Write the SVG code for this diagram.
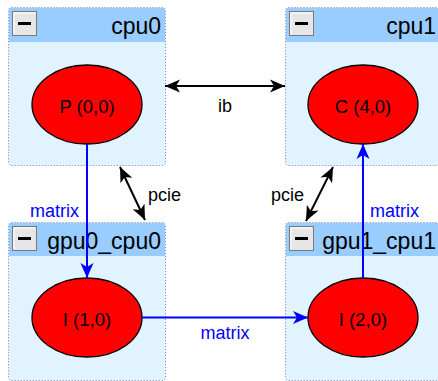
<svg xmlns="http://www.w3.org/2000/svg" width="438" height="381" viewBox="0 0 438 381">
<style>
.body{fill:#e0f3ff;stroke:#7a7ab8;stroke-width:1;stroke-dasharray:1 2}
.head{fill:#99ccff}
.title{font-family:"Liberation Sans",Arial,sans-serif;font-size:23px;fill:#000;text-anchor:end}
.btn{fill:#e6e6e6;stroke:#7a7a7a;stroke-width:1}
.btnhl{fill:none;stroke:#ffffff;stroke-width:1}
.node{fill:#ff0000;stroke:#000;stroke-width:1.3}
.nlabel{font-family:"Liberation Sans",Arial,sans-serif;font-size:18.5px;fill:#000;text-anchor:middle}
.elabel{font-family:"Liberation Sans",Arial,sans-serif;font-size:18px}
.blue{stroke:#0000ff;stroke-width:2;fill:none}
.black{stroke:#000;stroke-width:2;fill:none}
</style>
<defs>
<marker id="ab" markerUnits="userSpaceOnUse" viewBox="-16 -8 17 16" refX="0" refY="0" markerWidth="17" markerHeight="16" orient="auto-start-reverse">
<path d="M0,0 L-15,-6.5 L-11,0 L-15,6.5 Z" fill="#0000ff"/>
</marker>
<marker id="ak" markerUnits="userSpaceOnUse" viewBox="-16 -8 17 16" refX="0" refY="0" markerWidth="17" markerHeight="16" orient="auto-start-reverse">
<path d="M0,0 L-15,-6.5 L-11,0 L-15,6.5 Z" fill="#000"/>
</marker>
</defs>
<g id="cpu0">
<rect class="body" x="8.5" y="7.5" width="157" height="158" rx="3"/>
<rect class="head" x="9" y="8" width="156" height="34"/>
<rect class="btn" x="12.5" y="11.5" width="24" height="24"/>
<path class="btnhl" d="M14,34 V13 H35"/>
<rect x="18" y="22" width="13" height="3" fill="#000"/>
<text class="title" x="161" y="34">cpu0</text>
<ellipse class="node" cx="87" cy="104.5" rx="55" ry="39.5"/>
<text class="nlabel" x="87" y="113">P (0,0)</text>
</g>
<g id="cpu1">
<rect class="body" x="285.5" y="7.5" width="157" height="158" rx="3"/>
<rect class="head" x="286" y="8" width="156" height="34"/>
<rect class="btn" x="289.5" y="11.5" width="24" height="24"/>
<path class="btnhl" d="M291,34 V13 H312"/>
<rect x="295" y="22" width="13" height="3" fill="#000"/>
<text class="title" x="436" y="34">cpu1</text>
<ellipse class="node" cx="363" cy="104.5" rx="55" ry="39.5"/>
<text class="nlabel" x="363" y="113">C (4,0)</text>
</g>
<g id="gpu0_cpu0">
<rect class="body" x="8.5" y="222.5" width="157" height="158" rx="3"/>
<rect class="head" x="9" y="223" width="156" height="33"/>
<rect class="btn" x="12.5" y="226.5" width="24" height="24"/>
<path class="btnhl" d="M14,249 V228 H35"/>
<rect x="18" y="237" width="13" height="3" fill="#000"/>
<text class="title" x="161" y="249">gpu0_cpu0</text>
<ellipse class="node" cx="87" cy="317.5" rx="55" ry="39.5"/>
<text class="nlabel" x="87" y="326">I (1,0)</text>
</g>
<g id="gpu1_cpu1">
<rect class="body" x="285.5" y="222.5" width="157" height="158" rx="3"/>
<rect class="head" x="286" y="223" width="156" height="33"/>
<rect class="btn" x="289.5" y="226.5" width="24" height="24"/>
<path class="btnhl" d="M291,249 V228 H312"/>
<rect x="295" y="237" width="13" height="3" fill="#000"/>
<text class="title" x="436" y="249">gpu1_cpu1</text>
<ellipse class="node" cx="363" cy="317.5" rx="55" ry="39.5"/>
<text class="nlabel" x="363" y="326">I (2,0)</text>
</g>
<g id="connectors">
<path class="blue" d="M87,144 V278" marker-end="url(#ab)"/>
<text class="elabel" x="30" y="217" fill="#0000ff">matrix</text>
<path class="blue" d="M142,317.5 H308" marker-end="url(#ab)"/>
<text class="elabel" x="225" y="339" fill="#0000ff" text-anchor="middle">matrix</text>
<path class="blue" d="M363,278 V144" marker-end="url(#ab)"/>
<text class="elabel" x="370" y="217" fill="#0000ff">matrix</text>
<path class="black" d="M165,86 H285" marker-start="url(#ak)" marker-end="url(#ak)"/>
<text class="elabel" x="225" y="112" fill="#000" text-anchor="middle">ib</text>
<path class="black" d="M120,167 L145,220" marker-start="url(#ak)" marker-end="url(#ak)"/>
<text class="elabel" x="148" y="201" fill="#000">pcie</text>
<path class="black" d="M333,167 L306,221" marker-start="url(#ak)" marker-end="url(#ak)"/>
<text class="elabel" x="304" y="201" fill="#000" text-anchor="end">pcie</text>
</g>
</svg>
